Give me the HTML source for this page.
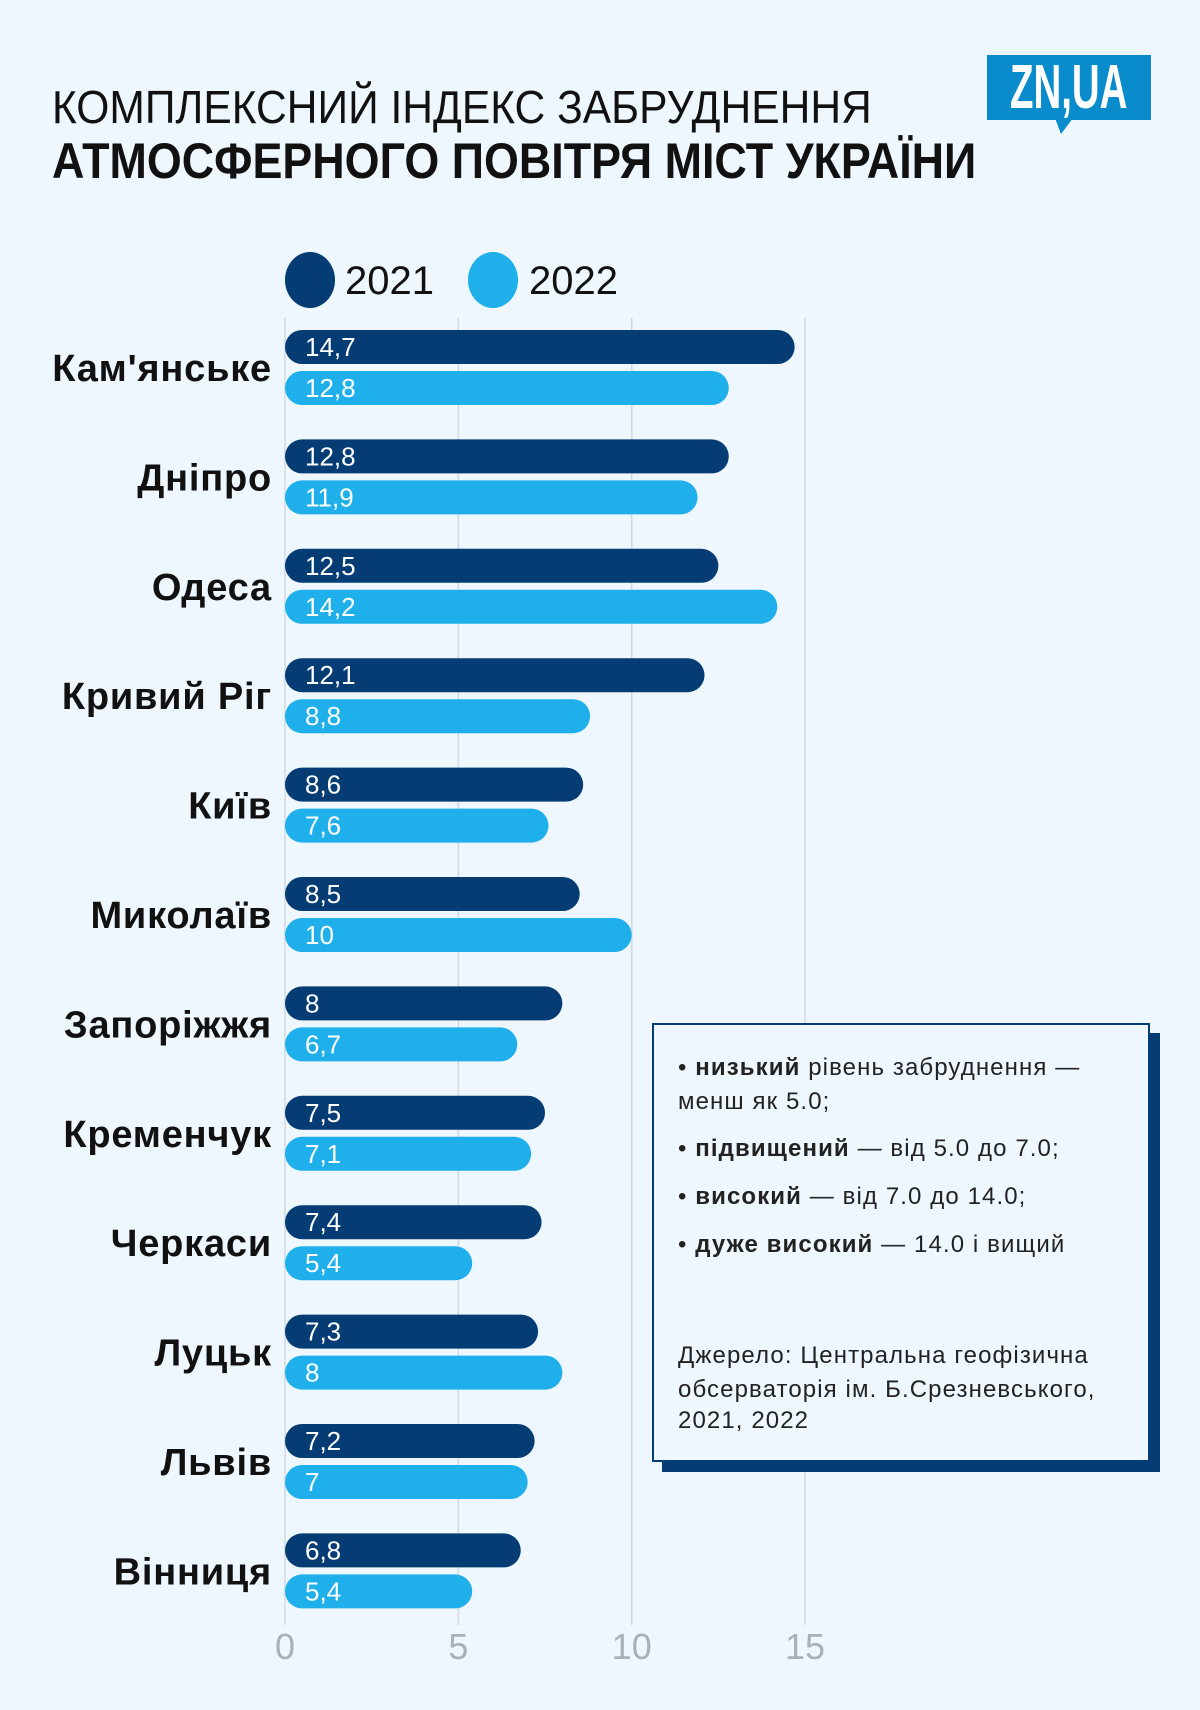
<!DOCTYPE html>
<html><head><meta charset="utf-8">
<style>
body{margin:0;background:#eef6fe;}
#root{position:relative;width:1200px;height:1710px;background:#eef6fe;overflow:hidden;font-family:"Liberation Sans",sans-serif;}
.t1{position:absolute;left:52px;top:80px;font-size:46px;color:#111;white-space:nowrap;transform:scaleX(0.925);transform-origin:left top;font-weight:normal;}
.t2{position:absolute;left:52px;top:132px;font-size:50px;font-weight:bold;color:#111;white-space:nowrap;transform:scaleX(0.897);transform-origin:left top;}
.logo{position:absolute;left:987px;top:55px;width:164px;height:65px;background:#0a8ccc;color:#fff;font-weight:bold;font-size:62px;line-height:66px;text-align:center;overflow:hidden;}
.logo span{display:inline-block;transform:scaleX(0.62);transform-origin:center;margin-left:-40px;margin-right:-40px;}
.tail{position:absolute;left:1055px;top:118px;width:0;height:0;border-left:6px solid transparent;border-right:12px solid transparent;border-top:16px solid #0a8ccc;}
.note{position:absolute;left:652px;top:1023px;width:494px;height:435px;border:2px solid #053c74;background:#eef6fe;box-shadow:10px 10px 0 #053c74;font-size:24px;letter-spacing:1.1px;color:#222;}
.note p{position:absolute;left:24px;margin:0;white-space:nowrap;line-height:34px;}
</style></head>
<body>
<div id="root">
<div class="t1">КОМПЛЕКСНИЙ ІНДЕКС ЗАБРУДНЕННЯ</div>
<div class="t2">АТМОСФЕРНОГО ПОВІТРЯ МІСТ УКРАЇНИ</div>
<div class="logo"><span>ZN,UA</span></div>
<div class="tail"></div>
<svg id="chart" width="1200" height="1710" style="position:absolute;left:0;top:0"></svg>
<div class="note">
<p style="top:26px">• <b>низький</b> рівень забруднення —</p>
<p style="top:60px">менш як 5.0;</p>
<p style="top:107px">• <b>підвищений</b> — від 5.0 до 7.0;</p>
<p style="top:155px">• <b>високий</b> — від 7.0 до 14.0;</p>
<p style="top:203px">• <b>дуже високий</b> — 14.0 і вищий</p>
<p style="top:314px">Джерело: Центральна геофізична</p>
<p style="top:348px">обсерваторія ім. Б.Срезневського,</p>
<p style="top:379px">2021, 2022</p>
</div>
</div>
<script>
const cities=["Кам'янське","Дніпро","Одеса","Кривий Ріг","Київ","Миколаїв","Запоріжжя","Кременчук","Черкаси","Луцьк","Львів","Вінниця"];
const v2021=[14.7,12.8,12.5,12.1,8.6,8.5,8,7.5,7.4,7.3,7.2,6.8];
const v2022=[12.8,11.9,14.2,8.8,7.6,10,6.7,7.1,5.4,8,7,5.4];
const labels2021=["14,7","12,8","12,5","12,1","8,6","8,5","8","7,5","7,4","7,3","7,2","6,8"];
const labels2022=["12,8","11,9","14,2","8,8","7,6","10","6,7","7,1","5,4","8","7","5,4"];
const ticks=[0,5,10,15];
const svg=document.getElementById('chart');
const NS='http://www.w3.org/2000/svg';
const x=v=>285+v*34.67;
const y=i=>330+i*109.4;
const BH=34;
function mk(t,a){const e=document.createElementNS(NS,t);for(const k in a)e.setAttribute(k,a[k]);svg.appendChild(e);return e;}
ticks.forEach(t=>{
 const l=mk('line',{x1:x(t),x2:x(t),y1:318,y2:1625,stroke:'#d2d8de','stroke-width':1.5});
 
 
 const tx=mk('text',{x:x(t),y:1659,'text-anchor':'middle','font-size':36,fill:'#a8b0b8','font-family':'Liberation Sans, sans-serif'});
 tx.textContent=t;
 
 
});
[[310,'#053c74','2021',345],[493,'#1fb0ec','2022',529]].forEach(d=>{
 const c=mk('ellipse',{cx:d[0],cy:280,rx:25,ry:28,fill:d[1]});
 
 
 const t=mk('text',{x:d[3],y:294,'font-size':40,fill:'#111','font-family':'Liberation Sans, sans-serif'});
 t.textContent=d[2];
 
 
});
cities.forEach((c,i)=>{
 const y0=y(i),y1=y(i)+41;
 const b1=mk('rect',{x:x(0),y:y0,width:x(v2021[i])-x(0),height:BH,rx:17,fill:'#053c74'});
 
 
 const b2=mk('rect',{x:x(0),y:y1,width:x(v2022[i])-x(0),height:BH,rx:17,fill:'#1fb0ec'});
 
 
 const l1=mk('text',{x:305,y:y0+26,'font-size':26,fill:'#fff','font-family':'Liberation Sans, sans-serif'});
 l1.textContent=labels2021[i];
 
 
 const l2=mk('text',{x:305,y:y1+26,'font-size':26,fill:'#fff','font-family':'Liberation Sans, sans-serif'});
 l2.textContent=labels2022[i];
 
 
 const cl=mk('text',{x:272,y:y0+51,'text-anchor':'end','font-size':38,'font-weight':'bold','letter-spacing':'0.8',fill:'#111','font-family':'Liberation Sans, sans-serif'});
 cl.textContent=c;
 
 
});
</script>
</body></html>
